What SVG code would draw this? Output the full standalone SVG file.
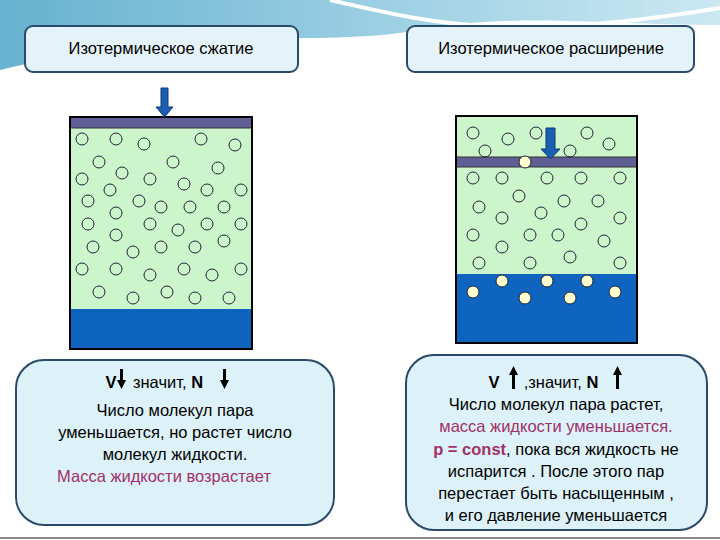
<svg xmlns="http://www.w3.org/2000/svg" width="720" height="540" viewBox="0 0 720 540">
<defs>
<linearGradient id="sky" x1="0" y1="0" x2="1" y2="0"><stop offset="0" stop-color="#3f9fc4"/><stop offset="0.6" stop-color="#8cc8df"/><stop offset="1" stop-color="#bfe3ef"/></linearGradient>
</defs>
<style>
.hdr{fill:#e4f3f9;stroke:#2a4a6a;stroke-width:2}
.box{fill:#ddf2f8;stroke:#2a4a6a;stroke-width:2}
.t{font-family:"Liberation Sans",Arial,sans-serif;font-size:16.5px;fill:#000;text-anchor:middle}
.m{fill:#a0306a}
.g{fill:#ccf5cc}
.w{fill:#0f64c0}
.p{fill:#5f5f96;stroke:#333;stroke-width:1}
.c{fill:none;stroke:#223;stroke-width:1}
.cy{fill:#ffffd0;stroke:#223;stroke-width:1}
.cyl{fill:none;stroke:#000;stroke-width:2}
.ar{fill:#1a5fb0;stroke:#0d3a7a;stroke-width:1}
.ln{fill:#000}
</style>
<rect width="720" height="540" fill="#fff"/>
<path d="M0,0 H720 V25 C600,25 520,12 420,30 C300,50 200,20 0,70 Z" fill="url(#sky)" opacity="0.8"/>
<path d="M330,0 C420,20 500,45 720,8" fill="none" stroke="#fff" stroke-width="4"/>
<line x1="0" y1="538" x2="720" y2="538" stroke="#888" stroke-width="2"/>

<g id="hdr-left"><rect class="hdr" x="25" y="26" width="273" height="46" rx="8"/><text class="t" x="161" y="54">Изотермическое сжатие</text></g>
<g id="hdr-right"><rect class="hdr" x="407" y="26" width="287" height="46" rx="8"/><text class="t" x="551" y="54">Изотермическое расширение</text></g>

<g id="cyl-left">
<rect class="g" x="70" y="128" width="182" height="181"/>
<rect class="w" x="70" y="309" width="182" height="40"/>
<rect class="p" x="70" y="117" width="182" height="11"/>
<g>
<circle class="c" cx="82" cy="139" r="6"/><circle class="c" cx="116" cy="139" r="6"/><circle class="c" cx="144" cy="144" r="6"/><circle class="c" cx="201" cy="139" r="6"/><circle class="c" cx="235" cy="145" r="6"/>
<circle class="c" cx="99" cy="162" r="6"/><circle class="c" cx="173" cy="162" r="6"/><circle class="c" cx="218" cy="168" r="6"/>
<circle class="c" cx="82" cy="179" r="6"/><circle class="c" cx="122" cy="173" r="6"/><circle class="c" cx="150" cy="179" r="6"/><circle class="c" cx="184" cy="184" r="6"/><circle class="c" cx="207" cy="190" r="6"/><circle class="c" cx="241" cy="190" r="6"/>
<circle class="c" cx="110" cy="190" r="6"/><circle class="c" cx="88" cy="201" r="6"/><circle class="c" cx="139" cy="201" r="6"/><circle class="c" cx="161" cy="207" r="6"/><circle class="c" cx="190" cy="207" r="6"/><circle class="c" cx="224" cy="207" r="6"/>
<circle class="c" cx="116" cy="213" r="6"/><circle class="c" cx="88" cy="224" r="6"/><circle class="c" cx="150" cy="224" r="6"/><circle class="c" cx="178" cy="230" r="6"/><circle class="c" cx="207" cy="224" r="6"/><circle class="c" cx="241" cy="224" r="6"/>
<circle class="c" cx="116" cy="235" r="6"/><circle class="c" cx="93" cy="247" r="6"/><circle class="c" cx="133" cy="252" r="6"/><circle class="c" cx="161" cy="247" r="6"/><circle class="c" cx="195" cy="247" r="6"/><circle class="c" cx="224" cy="241" r="6"/>
<circle class="c" cx="82" cy="269" r="6"/><circle class="c" cx="116" cy="269" r="6"/><circle class="c" cx="150" cy="275" r="6"/><circle class="c" cx="184" cy="269" r="6"/><circle class="c" cx="212" cy="275" r="6"/><circle class="c" cx="241" cy="269" r="6"/>
<circle class="c" cx="99" cy="292" r="6"/><circle class="c" cx="133" cy="298" r="6"/><circle class="c" cx="167" cy="292" r="6"/><circle class="c" cx="195" cy="298" r="6"/><circle class="c" cx="229" cy="298" r="6"/>
</g>
<rect class="cyl" x="70" y="117" width="182" height="232"/>
<path class="ar" d="M161,88 H168 V107 H173 L164.5,117 L156,107 H161 Z"/>
</g>

<g id="cyl-right">
<rect class="g" x="456" y="116" width="181" height="158"/>
<rect class="w" x="456" y="274" width="181" height="69"/>
<rect class="p" x="456" y="157" width="181" height="10"/>
<g>
<circle class="c" cx="473" cy="133" r="6"/><circle class="c" cx="508" cy="139" r="6"/><circle class="c" cx="536" cy="133" r="6"/><circle class="c" cx="587" cy="133" r="6"/><circle class="c" cx="609" cy="144" r="6"/><circle class="c" cx="485" cy="151" r="6"/><circle class="c" cx="570" cy="151" r="6"/>
<circle class="cy" cx="525" cy="162" r="6"/>
<circle class="c" cx="473" cy="178" r="6"/><circle class="c" cx="502" cy="178" r="6"/><circle class="c" cx="547" cy="178" r="6"/><circle class="c" cx="581" cy="178" r="6"/><circle class="c" cx="620" cy="178" r="6"/>
<circle class="c" cx="519" cy="196" r="6"/><circle class="c" cx="564" cy="201" r="6"/><circle class="c" cx="598" cy="201" r="6"/><circle class="c" cx="479" cy="207" r="6"/><circle class="c" cx="541" cy="213" r="6"/><circle class="c" cx="620" cy="218" r="6"/><circle class="c" cx="502" cy="218" r="6"/><circle class="c" cx="581" cy="224" r="6"/>
<circle class="c" cx="473" cy="235" r="6"/><circle class="c" cx="530" cy="235" r="6"/><circle class="c" cx="558" cy="235" r="6"/><circle class="c" cx="604" cy="241" r="6"/><circle class="c" cx="502" cy="247" r="6"/>
<circle class="c" cx="479" cy="263" r="6"/><circle class="c" cx="530" cy="263" r="6"/><circle class="c" cx="570" cy="257" r="6"/><circle class="c" cx="620" cy="263" r="6"/>
<circle class="cy" cx="502" cy="281" r="6"/><circle class="cy" cx="547" cy="281" r="6"/><circle class="cy" cx="587" cy="281" r="6"/><circle class="cy" cx="473" cy="292" r="6"/><circle class="cy" cx="525" cy="298" r="6"/><circle class="cy" cx="570" cy="298" r="6"/><circle class="cy" cx="615" cy="292" r="6"/>
</g>
<rect class="cyl" x="456" y="116" width="181" height="227"/>
<path class="ar" d="M546,128 H555 V149 H560 L550.5,159 L541,149 H546 Z"/>
</g>

<g id="box-left">
<rect class="box" x="16" y="360" width="318" height="165" rx="28"/>
<text class="t" x="111" y="388" font-weight="bold">V</text>
<text class="t" x="168" y="388">значит, <tspan font-weight="bold">N</tspan></text>
<text class="t" x="175" y="416">Число молекул пара</text>
<text class="t" x="175" y="438">уменьшается, но растет число</text>
<text class="t" x="175" y="460">молекул жидкости.</text>
<text class="t m" x="164" y="482">Масса жидкости возрастает</text>
</g>
<g id="box-right">
<rect class="box" x="406" y="355" width="301" height="175" rx="28"/>
<text class="t" x="494" y="388" font-weight="bold">V</text>
<text class="t" x="561" y="388">,значит, <tspan font-weight="bold">N</tspan></text>
<text class="t" x="556" y="410">Число молекул пара растет,</text>
<text class="t m" x="556" y="432">масса жидкости уменьшается.</text>
<text class="t" x="556" y="455"><tspan class="m" font-weight="bold">p = const</tspan>, пока вся жидкость не</text>
<text class="t" x="556" y="477">испарится . После этого пар</text>
<text class="t" x="556" y="499">перестает быть насыщенным ,</text>
<text class="t" x="556" y="521">и его давление уменьшается</text>
</g>
<g id="connectors">
<path class="ln" d="M120,369 H123 V380 H126 L121.5,389 L117,380 H120 Z"/>
<path class="ln" d="M223,369 H226 V380 H229 L224.5,389 L220,380 H223 Z"/>
<path class="ln" d="M512,389 H515 V375 H518 L513.5,366 L509,375 H512 Z"/>
<path class="ln" d="M616,389 H619 V375 H622 L617.5,366 L613,375 H616 Z"/>
</g>
</svg>
